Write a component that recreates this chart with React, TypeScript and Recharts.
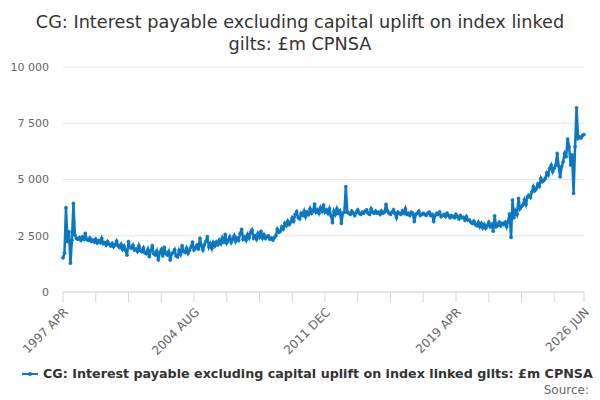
import { LineChart, Line, XAxis, YAxis, CartesianGrid } from "recharts"

// monthly values, £m (one row per year)
const values1997to2006 = [
  1520, 1730, 3750, 2240, 2680, 1280, 2300, 3940, 2530,
  2380, 2350, 2420, 2300, 2450, 2350, 2610, 2330, 2290, 2400, 2250, 2310,
  2220, 2350, 2180, 2280, 2200, 2390, 2150, 2200, 2090, 2240, 2120, 2050,
  2160, 2010, 2100, 2260, 2050, 1980, 2120, 1900, 2040, 1860, 1640, 2240,
  1980, 1950, 2080, 1870, 1920, 1800, 2060, 1850, 1790, 1960, 1750, 1700,
  1890, 1570, 1840, 2060, 1700, 1650, 1820, 1420, 1750, 1880, 1600, 1990,
  1720, 1650, 1800, 1420, 1700, 1750, 1880, 1600, 1560, 1850, 1680, 2060,
  1800, 1760, 1950, 1720, 1850, 2000, 2220, 1870, 1960, 2080, 1900, 2390,
  2050, 1870, 2100, 2250, 2460, 2000, 2150, 1940, 2200, 2050, 2220, 2100,
  2300, 2150, 2400, 2200, 2560, 2180, 2300, 2450, 2200, 2350, 2500, 2250,
]

const values2007to2016 = [
  2400, 2300, 2600, 2790, 2350, 2450, 2300, 2550, 2400, 2650, 2760, 2400,
  2500, 2350, 2600, 2450, 2700, 2400, 2550, 2380, 2460, 2500, 2350, 2400,
  2310, 2420, 2500, 2790, 2650, 2700, 2900, 2800, 3050, 2950, 3150, 3000,
  3100, 3300, 3150, 3450, 3570, 3300, 3250, 3500, 3400, 3600, 3350, 3550,
  3450, 3700, 3500, 3600, 3910, 3550, 3650, 3500, 3750, 3600, 3870, 3550,
  3650, 3500, 3700, 3400, 3080, 3600, 3450, 3700, 3500, 3600, 3050, 3500,
  3550, 4680, 3550, 3500, 3450, 3600, 3500, 3400, 3550, 3650, 3500, 3450,
  3550, 3500, 3600, 3650, 3500, 3450, 3700, 3550, 3500, 3600, 3500, 3550,
  3450, 3600, 3500, 3550, 3900, 3600, 3500, 3450, 3550, 3650, 3500, 3300,
  3550, 3500, 3450, 3600, 3500, 3700, 3450, 3500, 3400, 3550, 3500, 3130,
]

const values2017to2026 = [
  3450, 3500, 3600, 3400, 3450, 3500, 3450, 3400, 3500, 3550, 3400, 3450,
  3130, 3400, 3500, 3450, 3550, 3350, 3400, 3450, 3350, 3500, 3400, 3300,
  3400, 3350, 3300, 3450, 3350, 3250, 3400, 3300, 3320, 3200, 3350, 3200,
  3200, 3100, 3050, 3150, 3000, 2950, 3100, 2900, 3050, 2850, 3000, 2830,
  2950, 3100, 2900, 3000, 2700, 3380, 2900, 2950, 3100, 2950, 3050, 3000,
  3100, 2900, 3150, 3470, 2430, 4090, 3300, 3600, 3450, 4160, 3700, 3800,
  3870, 4100, 3900, 4235, 4300, 4200, 4450, 4680, 4500, 4600, 4800, 4700,
  5050, 4900, 4950, 5050, 5300, 5200, 5500, 5640, 5350, 5500, 5640, 6160,
  5600, 5120, 5570, 5790, 6160, 6010, 6800, 6460, 5640, 6100, 4385, 6460,
  8190, 6830, 6900, 6850, 6950, 7000,
]

const monthNames = ["JAN", "FEB", "MAR", "APR", "MAY", "JUN", "JUL", "AUG", "SEP", "OCT", "NOV", "DEC"]
const yTicks = [0, 2500, 5000, 7500, 10000]
const xTicks = [0, 22, 44, 66, 88, 110, 132, 154, 176, 198, 220, 242, 264, 286, 308, 330, 350]
const xLabelTicks = [0, 88, 176, 264, 350]
const xLabels = ["1997 APR", "2004 AUG", "2011 DEC", "2019 APR", "2026 JUN"]

const seriesName = "CG: Interest payable excluding capital uplift on index linked gilts: £m CPNSA"
const blue = "#0c78c2"

const allValues = [...values1997to2006, ...values2007to2016, ...values2017to2026]
const data = allValues.map((value, i) => {
  const m = 3 + i
  return { i, month: `${1997 + Math.floor(m / 12)} ${monthNames[m % 12]}`, value }
})

const fmtY = (v: number) => String(v).replace(/\B(?=(\d{3})+(?!\d))/g, " ")

function XTick(props: any) {
  const { x, y, payload } = props
  const k = xLabelTicks.indexOf(payload.value)
  if (k < 0) return null
  return (
    <g transform={`translate(${x + 3},${y + 6})`}>
      <text x={0} y={0} dy="0.35em" textAnchor="end" transform="rotate(-45)" fontSize={12} fill="#666">
        {xLabels[k]}
      </text>
    </g>
  )
}

export default function App() {
  return (
    <div style={{ position: "absolute", left: 0, top: 0, width: 600, height: 400, fontFamily: "DejaVu Sans", background: "#fff" }}>
      <div style={{ position: "absolute", top: 11, left: 0, width: 600, textAlign: "center", fontSize: 17.7, lineHeight: "22px", color: "#333" }}>
        CG: Interest payable excluding capital uplift on index linked
        <br />
        gilts: £m CPNSA
      </div>
      <LineChart width={600} height={400} data={data} margin={{ top: 67, right: 16, bottom: 48, left: 0 }}>
        <CartesianGrid vertical={false} stroke="#e6e6e6" />
        <XAxis
          dataKey="i"
          type="number"
          domain={[0, 350]}
          ticks={xTicks}
          interval={0}
          height={60}
          stroke="#ccd6eb"
          tickSize={10}
          tick={<XTick />}
        />
        <YAxis
          domain={[0, 10000]}
          ticks={yTicks}
          width={63}
          axisLine={false}
          tickLine={false}
          tickSize={0}
          tickMargin={14}
          tickFormatter={fmtY}
          tick={{ fontSize: 11, fill: "#666" }}
        />
        <Line
          type="linear"
          dataKey="value"
          name={seriesName}
          stroke={blue}
          strokeWidth={2.5}
          dot={{ r: 1.6, fill: blue, stroke: blue, strokeWidth: 0.5 }}
          isAnimationActive={false}
        />
      </LineChart>
      <div style={{ position: "absolute", top: 366, left: 22, display: "flex", alignItems: "center", fontSize: 12.7, fontWeight: "bold", color: "#333", whiteSpace: "nowrap" }}>
        <svg width={16} height={10} style={{ marginRight: 5 }}>
          <line x1={0} y1={5} x2={16} y2={5} stroke={blue} strokeWidth={2} />
          <circle cx={8} cy={5} r={2} fill={blue} />
        </svg>
        {seriesName}
      </div>
      <div style={{ position: "absolute", top: 383, right: 11, fontSize: 12, color: "#666" }}>Source:</div>
    </div>
  )
}
